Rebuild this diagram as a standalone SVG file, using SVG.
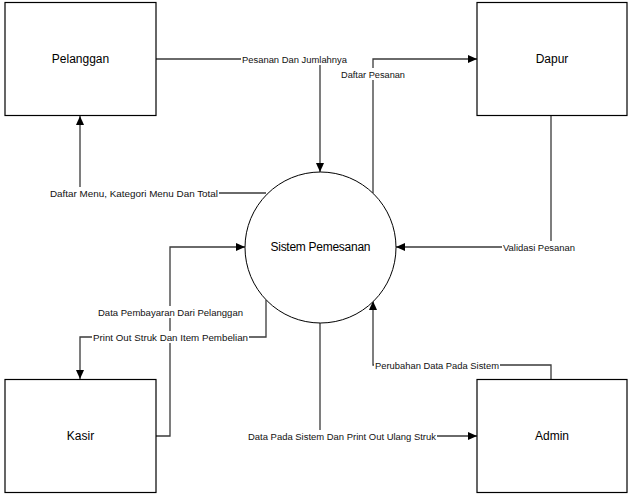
<svg xmlns="http://www.w3.org/2000/svg" width="633" height="500" viewBox="0 0 633 500">
<style>
.box{fill:#fff;stroke:#000;stroke-width:1.2}
.proc{fill:#fff;stroke:#000;stroke-width:1}
.node{font-family:"Liberation Sans",Arial,sans-serif;font-size:12px;fill:#000;text-anchor:middle;dominant-baseline:central}
.conn{fill:none;stroke:#3a3a3a;stroke-width:1.3}
.lbl{font-family:"Liberation Sans",Arial,sans-serif;font-size:9.6px;fill:#111;text-anchor:middle;dominant-baseline:central}
.bg{fill:#fff}
</style>
<defs>
<marker id="arr" markerUnits="userSpaceOnUse" markerWidth="10" markerHeight="9" refX="9" refY="4" orient="auto">
<path d="M0,0 L9,4 L0,8 z" fill="#000"/>
</marker>
</defs>
<rect width="633" height="500" fill="#fff"/>
<g id="connectors">
<path class="conn" d="M156,59 H320 V172" marker-end="url(#arr)"/>
<path class="conn" d="M266,193 H80 V116" marker-end="url(#arr)"/>
<path class="conn" d="M373,193 V59 H477" marker-end="url(#arr)"/>
<path class="conn" d="M551,116 V247 H396" marker-end="url(#arr)"/>
<path class="conn" d="M156,436 H170 V247 H245" marker-end="url(#arr)"/>
<path class="conn" d="M266,300 V337 H80 V379" marker-end="url(#arr)"/>
<path class="conn" d="M320,323 V436 H477" marker-end="url(#arr)"/>
<path class="conn" d="M551,379 V365 H373 V301" marker-end="url(#arr)"/>
<g id="labels">
<rect class="bg" x="241" y="53" width="107" height="12"/>
<text class="lbl" x="294.5" y="59" textLength="105" lengthAdjust="spacingAndGlyphs">Pesanan Dan Jumlahnya</text>
<rect class="bg" x="49" y="187" width="170" height="12"/>
<text class="lbl" x="134" y="193" textLength="168" lengthAdjust="spacingAndGlyphs">Daftar Menu, Kategori Menu Dan Total</text>
<rect class="bg" x="340" y="68" width="66" height="12"/>
<text class="lbl" x="373" y="74" textLength="64" lengthAdjust="spacingAndGlyphs">Daftar Pesanan</text>
<rect class="bg" x="502" y="241" width="74" height="12"/>
<text class="lbl" x="539" y="247" textLength="72" lengthAdjust="spacingAndGlyphs">Validasi Pesanan</text>
<rect class="bg" x="97" y="306" width="147" height="12"/>
<text class="lbl" x="170.5" y="312" textLength="145" lengthAdjust="spacingAndGlyphs">Data Pembayaran Dari Pelanggan</text>
<rect class="bg" x="92" y="331" width="157" height="12"/>
<text class="lbl" x="170.5" y="337" textLength="155" lengthAdjust="spacingAndGlyphs">Print Out Struk Dan Item Pembelian</text>
<rect class="bg" x="247" y="430" width="190" height="12"/>
<text class="lbl" x="342" y="436" textLength="188" lengthAdjust="spacingAndGlyphs">Data Pada Sistem Dan Print Out Ulang Struk</text>
<rect class="bg" x="374" y="359" width="126" height="12"/>
<text class="lbl" x="437" y="365" textLength="124" lengthAdjust="spacingAndGlyphs">Perubahan Data Pada Sistem</text>
</g>
</g>
<g id="pelanggan">
<rect class="box" x="5" y="2.5" width="151" height="113"/>
<text class="node" x="80.5" y="59">Pelanggan</text>
</g>
<g id="dapur">
<rect class="box" x="477" y="2.5" width="150" height="113"/>
<text class="node" x="552" y="59">Dapur</text>
</g>
<g id="kasir">
<rect class="box" x="5" y="379.5" width="151" height="113"/>
<text class="node" x="80.5" y="436">Kasir</text>
</g>
<g id="admin">
<rect class="box" x="477" y="379.5" width="150" height="113"/>
<text class="node" x="552" y="436">Admin</text>
</g>
<g id="sistem-pemesanan">
<circle class="proc" cx="320.5" cy="247.5" r="75.5"/>
<text class="node" x="320.5" y="247" textLength="100" lengthAdjust="spacing">Sistem Pemesanan</text>
</g>
</svg>
